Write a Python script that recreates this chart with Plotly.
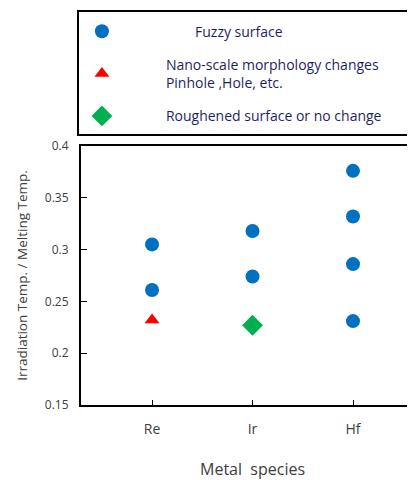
import plotly.graph_objects as go

# ---- data ----
categories = ["Re", "Ir", "Hf"]
cat_pos = [1, 2, 3]

fuzzy_x = ["Re", "Re", "Ir", "Ir", "Hf", "Hf", "Hf", "Hf"]
fuzzy_y = [0.305, 0.261, 0.318, 0.274, 0.376, 0.332, 0.286, 0.231]

nano_x = ["Re"]
nano_y = [0.232]

rough_x = ["Ir"]
rough_y = [0.227]

ytick_vals = [0.15, 0.2, 0.25, 0.3, 0.35, 0.4]
ytick_text = ["0.15", "0.2", "0.25", "0.3", "0.35", "0.4"]

series_names = ["Fuzzy surface",
                "Nano-scale morphology changes<br>Pinhole ,Hole, etc.",
                "Roughened surface or no change"]

x_title = "Metal  species"
y_title = "Irradiation Temp. / Melting Temp."

pos = {c: p for c, p in zip(categories, cat_pos)}

FONT = "Open Sans"
fig = go.Figure()
fig.add_trace(go.Scatter(
    x=[pos[c] for c in fuzzy_x], y=fuzzy_y, mode="markers",
    name="\u00a0" * 8 + series_names[0], legendgroup="a",
    marker=dict(symbol="circle", size=14, color="#0070C0")))
fig.add_trace(go.Scatter(
    x=[pos[c] for c in nano_x], y=nano_y, mode="markers",
    name=series_names[1], legendgroup="b",
    marker=dict(symbol="triangle-up", size=13, color="#FF0000")))
fig.add_trace(go.Scatter(
    x=[pos[c] for c in rough_x], y=rough_y, mode="markers",
    name=series_names[2], legendgroup="c",
    marker=dict(symbol="diamond", size=16, color="#00B050")))

# the page body adds an 8px offset to the figure
fig.update_layout(
    width=407, height=472,
    margin=dict(l=73, r=0, t=138, b=75),
    paper_bgcolor="white", plot_bgcolor="white",
    font=dict(family=FONT, color="#404040"),
    showlegend=True,
    legend=dict(x=-0.129, y=1.503, xanchor="left", yanchor="top",
                bgcolor="rgba(0,0,0,0)", borderwidth=0,
                font=dict(family=FONT, size=14, color="#1F1F5F"),
                itemwidth=118, tracegroupgap=12, valign="middle"),
    xaxis=dict(range=[0.293, 3.617], tickvals=cat_pos, ticktext=categories,
               showline=True, linecolor="black", linewidth=2, mirror=True,
               ticks="inside", ticklen=5, tickcolor="black", tickwidth=1,
               showgrid=False, zeroline=False, ticklabelstandoff=10,
               tickfont=dict(family=FONT, size=14, color="#404040")),
    yaxis=dict(range=[0.15, 0.4], tickvals=ytick_vals, ticktext=ytick_text,
               showline=True, linecolor="black", linewidth=2, mirror=False,
               ticks="inside", ticklen=6, tickcolor="black", tickwidth=1,
               showgrid=False, zeroline=False, ticklabelstandoff=8,
               tickfont=dict(family=FONT, size=12, color="#404040"),
               title=dict(text=y_title, standoff=14,
                          font=dict(family=FONT, size=13.5, color="#404040"))),
    shapes=[dict(type="rect", xref="paper", yref="paper",
                 x0=-0.009, x1=1.2, y0=1.0425, y1=1.521,
                 line=dict(color="black", width=2), fillcolor="rgba(0,0,0,0)")],
    annotations=[dict(text=x_title, xref="x", yref="paper", x=cat_pos[1], y=0,
                      yshift=-64, xanchor="center", yanchor="middle",
                      showarrow=False,
                      font=dict(family=FONT, size=16, color="#404040"))],
)

fig.write_html("out.html")
